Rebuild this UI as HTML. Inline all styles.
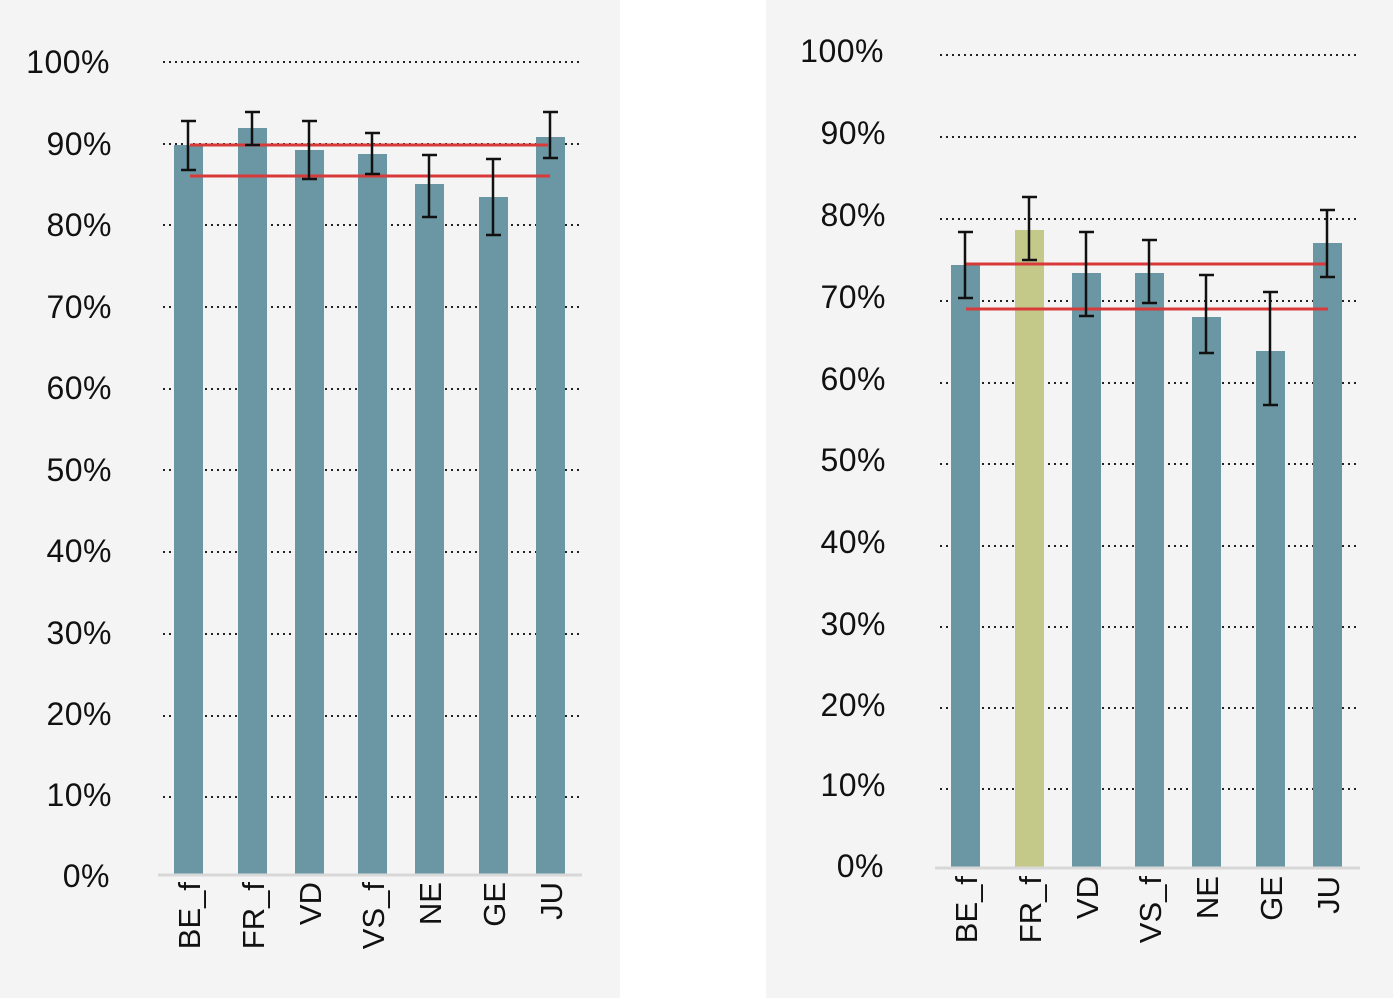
<!DOCTYPE html>
<html><head><meta charset="utf-8"><style>
html,body{margin:0;padding:0;background:#fff;}
svg{display:block;}
text{font-family:"Liberation Sans","DejaVu Sans",sans-serif;fill:#111;}
</style></head><body>
<svg width="1393" height="998" viewBox="0 0 1393 998" xmlns="http://www.w3.org/2000/svg">
<rect x="0" y="0" width="620" height="998" fill="#f4f4f4"/>
<rect x="766" y="0" width="627" height="998" fill="#f4f4f4"/>
<g stroke="#222" stroke-width="2" stroke-dasharray="2,4">
<line x1="163" x2="582" y1="62" y2="62"/><line x1="163" x2="582" y1="144" y2="144"/><line x1="163" x2="582" y1="225" y2="225"/><line x1="163" x2="582" y1="307" y2="307"/><line x1="163" x2="582" y1="389" y2="389"/><line x1="163" x2="582" y1="470" y2="470"/><line x1="163" x2="582" y1="552" y2="552"/><line x1="163" x2="582" y1="634" y2="634"/><line x1="163" x2="582" y1="716" y2="716"/><line x1="163" x2="582" y1="797" y2="797"/>
<line x1="940" x2="1360" y1="55" y2="55"/><line x1="940" x2="1360" y1="137" y2="137"/><line x1="940" x2="1360" y1="219" y2="219"/><line x1="940" x2="1360" y1="301" y2="301"/><line x1="940" x2="1360" y1="383" y2="383"/><line x1="940" x2="1360" y1="464" y2="464"/><line x1="940" x2="1360" y1="546" y2="546"/><line x1="940" x2="1360" y1="627" y2="627"/><line x1="940" x2="1360" y1="708" y2="708"/><line x1="940" x2="1360" y1="789" y2="789"/>
</g>
<g font-size="32" text-anchor="end" letter-spacing="0.5">
<text x="110" y="73">100%</text><text x="112" y="155">90%</text><text x="112" y="236">80%</text><text x="112" y="318">70%</text><text x="112" y="399">60%</text><text x="112" y="481">50%</text><text x="112" y="562">40%</text><text x="112" y="644">30%</text><text x="112" y="725">20%</text><text x="112" y="806">10%</text><text x="110" y="887">0%</text>
<text x="884" y="62">100%</text><text x="886" y="144">90%</text><text x="886" y="226">80%</text><text x="886" y="308">70%</text><text x="886" y="390">60%</text><text x="886" y="471">50%</text><text x="886" y="553">40%</text><text x="886" y="635">30%</text><text x="886" y="716">20%</text><text x="886" y="796">10%</text><text x="884" y="877">0%</text>
</g>
<g fill="#6a97a3">
<rect x="174" y="145" width="29" height="730"/><rect x="238" y="128" width="29" height="747"/><rect x="295" y="150" width="29" height="725"/><rect x="358" y="154" width="29" height="721"/><rect x="415" y="184" width="29" height="691"/><rect x="479" y="197" width="29" height="678"/><rect x="536" y="137" width="29" height="738"/>
<rect x="951" y="265" width="29" height="603"/><rect x="1072" y="273" width="29" height="595"/><rect x="1135" y="273" width="29" height="595"/><rect x="1192" y="317" width="29" height="551"/><rect x="1256" y="351" width="29" height="517"/><rect x="1313" y="243" width="29" height="625"/>
</g>
<rect x="1015" y="230" width="29" height="638" fill="#c4c98a"/>
<line x1="158" x2="582" y1="875" y2="875" stroke="#d8d8d8" stroke-width="3"/>
<line x1="935" x2="1360" y1="868" y2="868" stroke="#d8d8d8" stroke-width="3"/>
<g stroke="#d83a3a" stroke-width="3">
<line x1="190" x2="548" y1="145" y2="145"/><line x1="190" x2="550" y1="176" y2="176"/>
<line x1="966" x2="1327" y1="264" y2="264"/><line x1="966" x2="1328" y1="309" y2="309"/>
</g>
<g stroke="#111" stroke-width="2.5" fill="none">
<path d="M188 121V170M181 121H196M181 170H196"/>
<path d="M252 112V145M245 112H260M245 145H260"/>
<path d="M309 121V179M302 121H317M302 179H317"/>
<path d="M372 133V174M365 133H380M365 174H380"/>
<path d="M429 155V217M422 155H437M422 217H437"/>
<path d="M493 159V235M486 159H501M486 235H501"/>
<path d="M550 112V158M543 112H558M543 158H558"/>
<path d="M965 232V298M958 232H973M958 298H973"/>
<path d="M1029 197V260M1022 197H1037M1022 260H1037"/>
<path d="M1086 232V316M1079 232H1094M1079 316H1094"/>
<path d="M1149 240V303M1142 240H1157M1142 303H1157"/>
<path d="M1206 275V353M1199 275H1214M1199 353H1214"/>
<path d="M1270 292V405M1263 292H1278M1263 405H1278"/>
<path d="M1327 210V277M1320 210H1335M1320 277H1335"/>
</g>
<g font-size="31" text-anchor="end">
<text transform="translate(200,882) rotate(-90)">BE_f</text>
<text transform="translate(264,882) rotate(-90)">FR_f</text>
<text transform="translate(321,882) rotate(-90)">VD</text>
<text transform="translate(384,882) rotate(-90)">VS_f</text>
<text transform="translate(441,882) rotate(-90)">NE</text>
<text transform="translate(505,882) rotate(-90)">GE</text>
<text transform="translate(562,882) rotate(-90)">JU</text>
<text transform="translate(977,876) rotate(-90)">BE_f</text>
<text transform="translate(1041,876) rotate(-90)">FR_f</text>
<text transform="translate(1098,876) rotate(-90)">VD</text>
<text transform="translate(1161,876) rotate(-90)">VS_f</text>
<text transform="translate(1218,876) rotate(-90)">NE</text>
<text transform="translate(1282,876) rotate(-90)">GE</text>
<text transform="translate(1339,876) rotate(-90)">JU</text>
</g>
</svg>
</body></html>
